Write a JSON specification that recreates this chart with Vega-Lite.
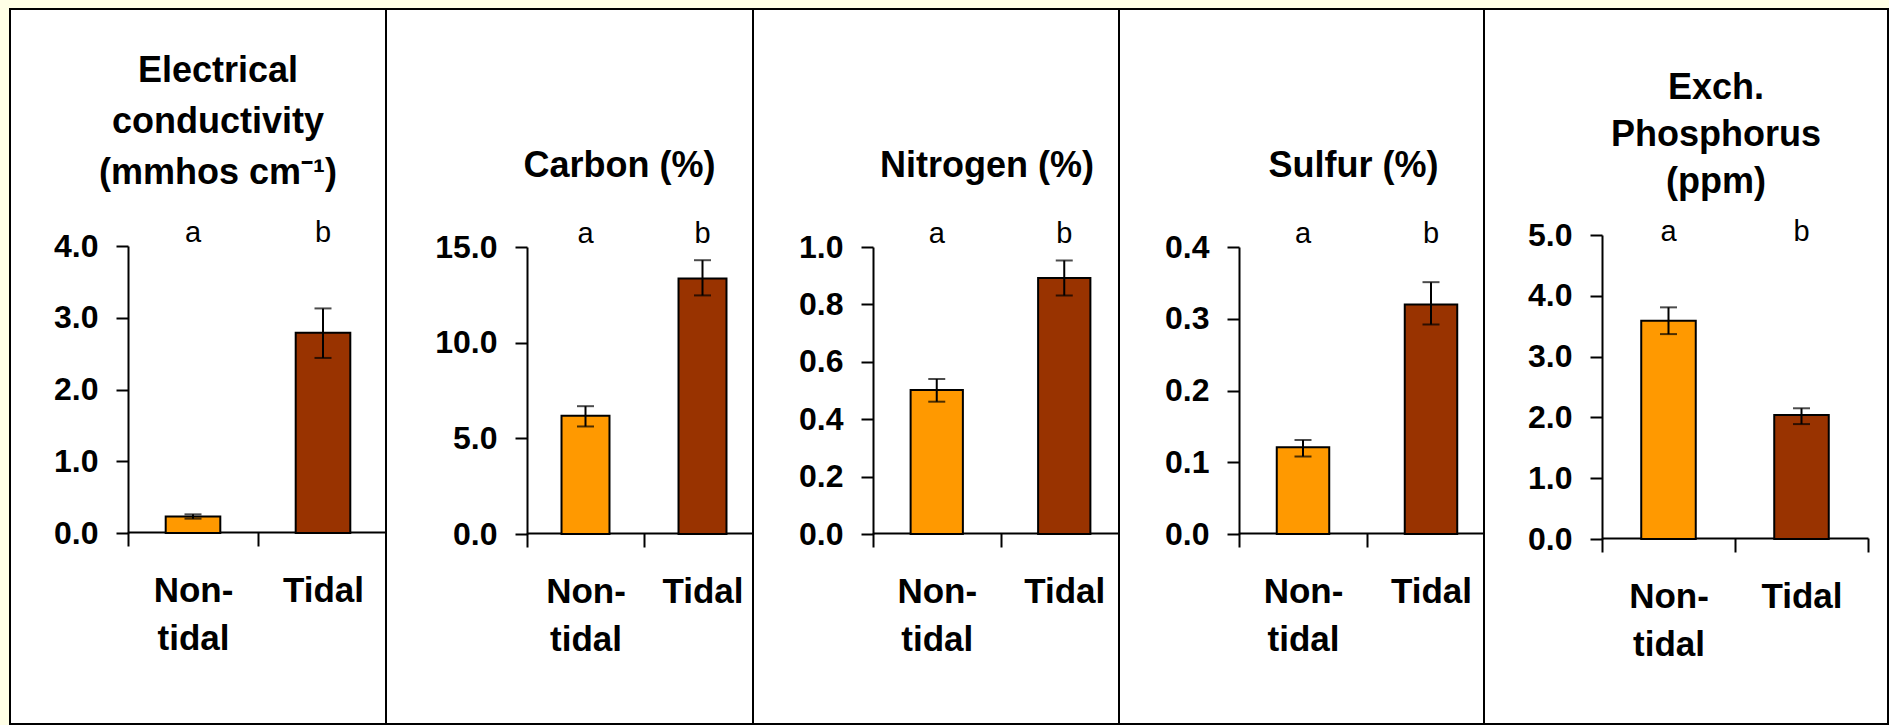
{
  "$schema": "https://vega.github.io/schema/vega-lite/v6.json",
  "background": "#FFFFE6",
  "padding": {"left": 9, "top": 8, "right": 0, "bottom": 0},
  "bounds": "flush",
  "spacing": 0,
  "config": {
    "view": {"fill": "white", "stroke": "black", "strokeWidth": 2},
    "axis": {"domainColor": "black", "domainWidth": 2, "tickColor": "black", "tickWidth": 2, "grid": false, "labelColor": "black", "labelFont": "Liberation Sans", "labelFontWeight": "bold"},
    "axisX": {"labelFontSize": 35, "labelLineHeight": 48, "labelPadding": 27, "tickSize": 14, "labelAngle": 0, "tickBand": "extent", "labelExpr": "datum.label == 'Non-tidal' ? ['Non-', 'tidal'] : datum.label"},
    "axisY": {"labelFontSize": 32, "tickSize": 12, "labelPadding": 18, "labelFlush": false, "labelOverlap": false, "format": ".1f"},
    "title": {"font": "Liberation Sans", "fontSize": 36, "fontWeight": "bold", "color": "black", "anchor": "middle", "frame": "group"},
    "bar": {"stroke": "black", "strokeWidth": 2}
  },
  "datasets": {
    "ec": [
      {"site": "Non-tidal", "mean": 0.23, "lo": 0.20, "hi": 0.26, "letter": "a"},
      {"site": "Tidal", "mean": 2.79, "lo": 2.44, "hi": 3.13, "letter": "b"}
    ],
    "carbon": [
      {"site": "Non-tidal", "mean": 6.18, "lo": 5.62, "hi": 6.68, "letter": "a"},
      {"site": "Tidal", "mean": 13.36, "lo": 12.47, "hi": 14.31, "letter": "b"}
    ],
    "nitrogen": [
      {"site": "Non-tidal", "mean": 0.502, "lo": 0.461, "hi": 0.540, "letter": "a"},
      {"site": "Tidal", "mean": 0.892, "lo": 0.831, "hi": 0.953, "letter": "b"}
    ],
    "sulfur": [
      {"site": "Non-tidal", "mean": 0.121, "lo": 0.108, "hi": 0.131, "letter": "a"},
      {"site": "Tidal", "mean": 0.320, "lo": 0.292, "hi": 0.351, "letter": "b"}
    ],
    "phosphorus": [
      {"site": "Non-tidal", "mean": 3.59, "lo": 3.37, "hi": 3.81, "letter": "a"},
      {"site": "Tidal", "mean": 2.04, "lo": 1.89, "hi": 2.15, "letter": "b"}
    ]
  },
  "hconcat": [
    {
      "width": 376, "height": 715,
      "title": {"text": ["Electrical", "conductivity", "(mmhos cm⁻¹)"], "offset": -183, "dx": 20, "lineHeight": 51},
      "data": {"name": "ec"},
      "encoding": {
        "x": {"field": "site", "type": "nominal", "sort": ["Non-tidal", "Tidal"], "scale": {"range": [118, 378], "paddingInner": 0, "paddingOuter": 0}, "axis": {"offset": -192, "title": null}}
      },
      "layer": [
        {"mark": {"type": "bar", "width": {"band": 0.42}},
         "encoding": {
           "y": {"field": "mean", "type": "quantitative", "scale": {"domain": [0, 4], "range": [524, 237], "nice": false, "zero": true}, "axis": {"values": [0, 1, 2, 3, 4], "offset": -118, "title": null}},
           "color": {"field": "site", "type": "nominal", "scale": {"domain": ["Non-tidal", "Tidal"], "range": ["#FF9900", "#993300"]}, "legend": null}}},
        {"mark": {"type": "errorbar", "color": "black", "thickness": 2, "ticks": {"size": 17, "thickness": 2, "color": "black"}},
         "encoding": {
           "y": {"field": "lo", "type": "quantitative", "scale": {"domain": [0, 4], "range": [524, 237], "nice": false, "zero": true}, "axis": {"values": [0, 1, 2, 3, 4], "offset": -118, "title": null}},
           "y2": {"field": "hi"}}},
        {"mark": {"type": "text", "dy": -4, "font": "Liberation Sans", "fontSize": 29, "color": "black", "baseline": "alphabetic"},
         "encoding": {
           "y": {"datum": 4, "type": "quantitative", "scale": {"domain": [0, 4], "range": [524, 237], "nice": false, "zero": true}, "axis": {"values": [0, 1, 2, 3, 4], "offset": -118, "title": null}},
           "text": {"field": "letter"}}}
      ]
    },
    {
      "width": 367, "height": 715,
      "title": {"text": "Carbon (%)", "offset": -176, "dx": 50},
      "data": {"name": "carbon"},
      "encoding": {
        "x": {"field": "site", "type": "nominal", "sort": ["Non-tidal", "Tidal"], "scale": {"range": [141, 375], "paddingInner": 0, "paddingOuter": 0}, "axis": {"offset": -191, "title": null}}
      },
      "layer": [
        {"mark": {"type": "bar", "width": {"band": 0.41}},
         "encoding": {
           "y": {"field": "mean", "type": "quantitative", "scale": {"domain": [0, 15], "range": [525, 238], "nice": false, "zero": true}, "axis": {"values": [0, 5, 10, 15], "offset": -141, "title": null}},
           "color": {"field": "site", "type": "nominal", "scale": {"domain": ["Non-tidal", "Tidal"], "range": ["#FF9900", "#993300"]}, "legend": null}}},
        {"mark": {"type": "errorbar", "color": "black", "thickness": 2, "ticks": {"size": 17, "thickness": 2, "color": "black"}},
         "encoding": {
           "y": {"field": "lo", "type": "quantitative", "scale": {"domain": [0, 15], "range": [525, 238], "nice": false, "zero": true}, "axis": {"values": [0, 5, 10, 15], "offset": -141, "title": null}},
           "y2": {"field": "hi"}}},
        {"mark": {"type": "text", "dy": -4, "font": "Liberation Sans", "fontSize": 29, "color": "black", "baseline": "alphabetic"},
         "encoding": {
           "y": {"datum": 15, "type": "quantitative", "scale": {"domain": [0, 15], "range": [525, 238], "nice": false, "zero": true}, "axis": {"values": [0, 5, 10, 15], "offset": -141, "title": null}},
           "text": {"field": "letter"}}}
      ]
    },
    {
      "width": 366, "height": 715,
      "title": {"text": "Nitrogen (%)", "offset": -176, "dx": 51},
      "data": {"name": "nitrogen"},
      "encoding": {
        "x": {"field": "site", "type": "nominal", "sort": ["Non-tidal", "Tidal"], "scale": {"range": [120, 375], "paddingInner": 0, "paddingOuter": 0}, "axis": {"offset": -191, "title": null}}
      },
      "layer": [
        {"mark": {"type": "bar", "width": {"band": 0.41}},
         "encoding": {
           "y": {"field": "mean", "type": "quantitative", "scale": {"domain": [0, 1], "range": [525, 238], "nice": false, "zero": true}, "axis": {"values": [0, 0.2, 0.4, 0.6, 0.8, 1.0], "offset": -120, "title": null}},
           "color": {"field": "site", "type": "nominal", "scale": {"domain": ["Non-tidal", "Tidal"], "range": ["#FF9900", "#993300"]}, "legend": null}}},
        {"mark": {"type": "errorbar", "color": "black", "thickness": 2, "ticks": {"size": 17, "thickness": 2, "color": "black"}},
         "encoding": {
           "y": {"field": "lo", "type": "quantitative", "scale": {"domain": [0, 1], "range": [525, 238], "nice": false, "zero": true}, "axis": {"values": [0, 0.2, 0.4, 0.6, 0.8, 1.0], "offset": -120, "title": null}},
           "y2": {"field": "hi"}}},
        {"mark": {"type": "text", "dy": -4, "font": "Liberation Sans", "fontSize": 29, "color": "black", "baseline": "alphabetic"},
         "encoding": {
           "y": {"datum": 1, "type": "quantitative", "scale": {"domain": [0, 1], "range": [525, 238], "nice": false, "zero": true}, "axis": {"values": [0, 0.2, 0.4, 0.6, 0.8, 1.0], "offset": -120, "title": null}},
           "text": {"field": "letter"}}}
      ]
    },
    {
      "width": 365, "height": 715,
      "title": {"text": "Sulfur (%)", "offset": -176, "dx": 52},
      "data": {"name": "sulfur"},
      "encoding": {
        "x": {"field": "site", "type": "nominal", "sort": ["Non-tidal", "Tidal"], "scale": {"range": [120, 376], "paddingInner": 0, "paddingOuter": 0}, "axis": {"offset": -191, "title": null}}
      },
      "layer": [
        {"mark": {"type": "bar", "width": {"band": 0.41}},
         "encoding": {
           "y": {"field": "mean", "type": "quantitative", "scale": {"domain": [0, 0.4], "range": [525, 238], "nice": false, "zero": true}, "axis": {"values": [0, 0.1, 0.2, 0.3, 0.4], "offset": -120, "title": null}},
           "color": {"field": "site", "type": "nominal", "scale": {"domain": ["Non-tidal", "Tidal"], "range": ["#FF9900", "#993300"]}, "legend": null}}},
        {"mark": {"type": "errorbar", "color": "black", "thickness": 2, "ticks": {"size": 17, "thickness": 2, "color": "black"}},
         "encoding": {
           "y": {"field": "lo", "type": "quantitative", "scale": {"domain": [0, 0.4], "range": [525, 238], "nice": false, "zero": true}, "axis": {"values": [0, 0.1, 0.2, 0.3, 0.4], "offset": -120, "title": null}},
           "y2": {"field": "hi"}}},
        {"mark": {"type": "text", "dy": -4, "font": "Liberation Sans", "fontSize": 29, "color": "black", "baseline": "alphabetic"},
         "encoding": {
           "y": {"datum": 0.4, "type": "quantitative", "scale": {"domain": [0, 0.4], "range": [525, 238], "nice": false, "zero": true}, "axis": {"values": [0, 0.1, 0.2, 0.3, 0.4], "offset": -120, "title": null}},
           "text": {"field": "letter"}}}
      ]
    },
    {
      "width": 404, "height": 715,
      "title": {"text": ["Exch.", "Phosphorus", "(ppm)"], "offset": -192, "dx": 30, "lineHeight": 47},
      "data": {"name": "phosphorus"},
      "encoding": {
        "x": {"field": "site", "type": "nominal", "sort": ["Non-tidal", "Tidal"], "scale": {"range": [118, 384], "paddingInner": 0, "paddingOuter": 0}, "axis": {"offset": -186, "title": null}}
      },
      "layer": [
        {"mark": {"type": "bar", "width": {"band": 0.41}},
         "encoding": {
           "y": {"field": "mean", "type": "quantitative", "scale": {"domain": [0, 5], "range": [530, 226], "nice": false, "zero": true}, "axis": {"values": [0, 1, 2, 3, 4, 5], "offset": -118, "title": null}},
           "color": {"field": "site", "type": "nominal", "scale": {"domain": ["Non-tidal", "Tidal"], "range": ["#FF9900", "#993300"]}, "legend": null}}},
        {"mark": {"type": "errorbar", "color": "black", "thickness": 2, "ticks": {"size": 17, "thickness": 2, "color": "black"}},
         "encoding": {
           "y": {"field": "lo", "type": "quantitative", "scale": {"domain": [0, 5], "range": [530, 226], "nice": false, "zero": true}, "axis": {"values": [0, 1, 2, 3, 4, 5], "offset": -118, "title": null}},
           "y2": {"field": "hi"}}},
        {"mark": {"type": "text", "dy": 6, "font": "Liberation Sans", "fontSize": 29, "color": "black", "baseline": "alphabetic"},
         "encoding": {
           "y": {"datum": 5, "type": "quantitative", "scale": {"domain": [0, 5], "range": [530, 226], "nice": false, "zero": true}, "axis": {"values": [0, 1, 2, 3, 4, 5], "offset": -118, "title": null}},
           "text": {"field": "letter"}}}
      ]
    }
  ]
}
